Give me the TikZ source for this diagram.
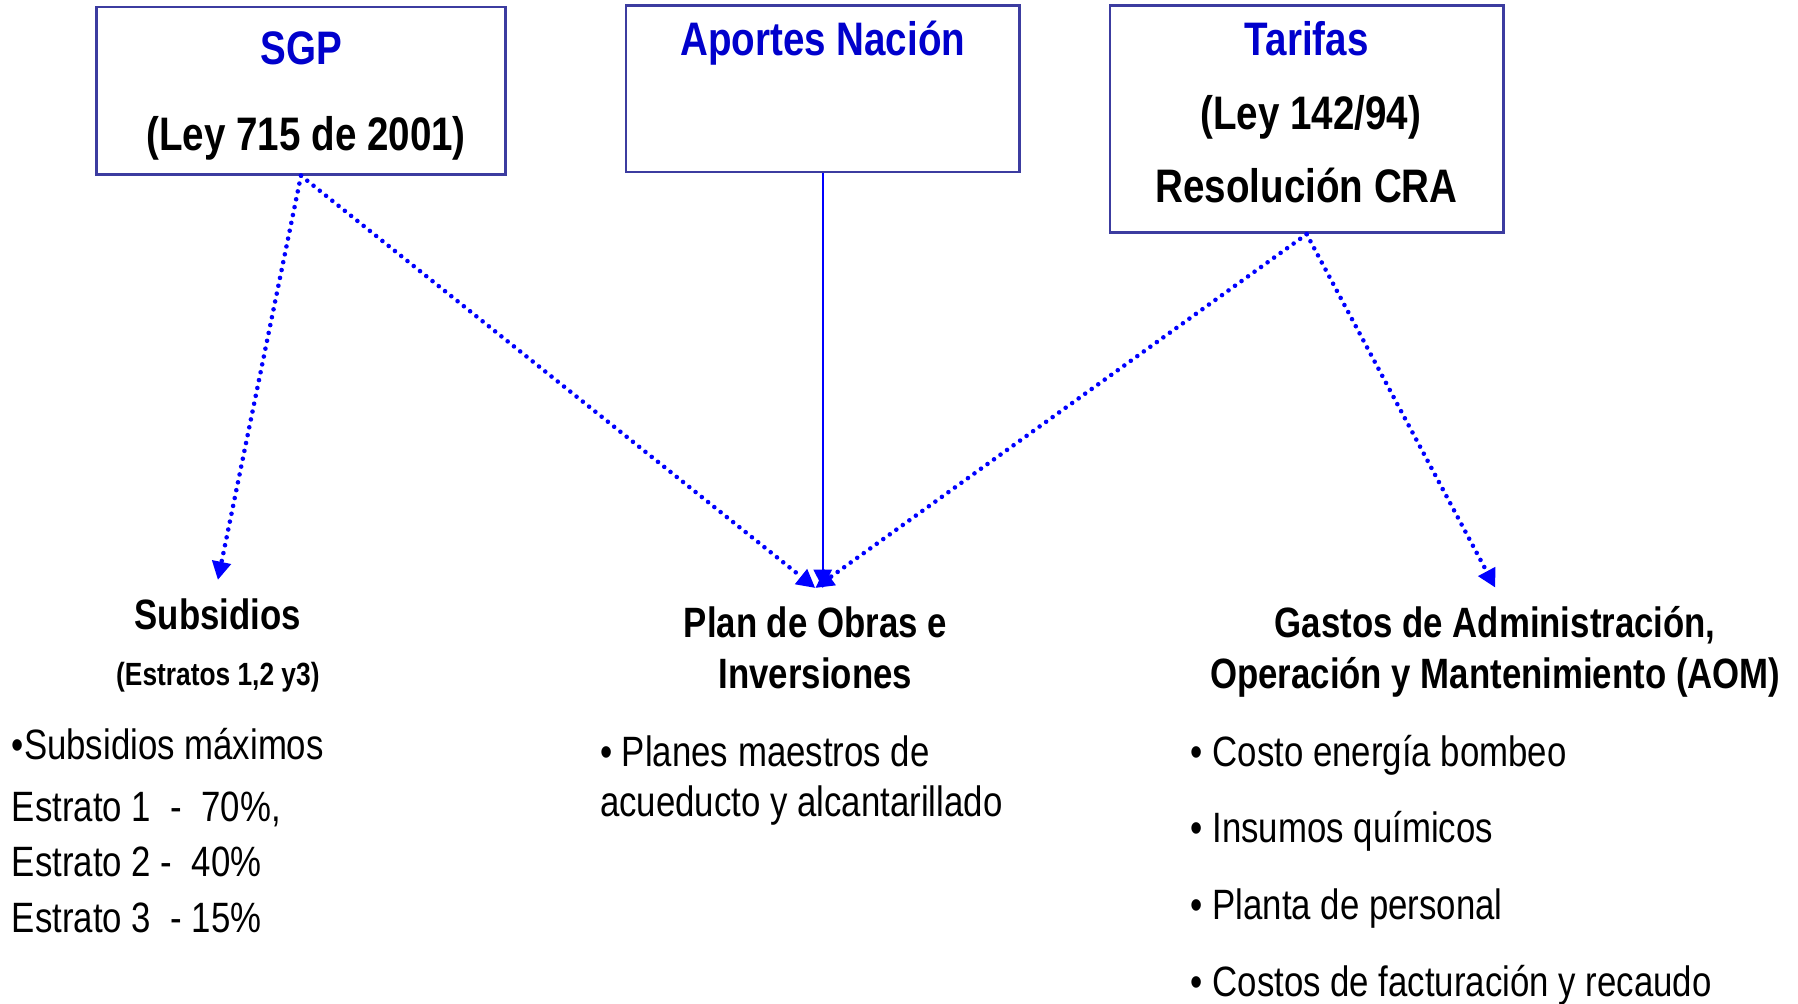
\documentclass[tikz,border=0pt]{standalone}
\usepackage{fontspec}
\setmainfont{Liberation Sans}[FakeStretch=0.82]
\usetikzlibrary{arrows.meta}
\definecolor{rahmen}{RGB}{60,60,160}
\definecolor{titel}{RGB}{0,0,204}
\definecolor{pfeil}{RGB}{0,0,255}
\newcommand\px{0.5pt}
\newcommand\boxfont{\fontsize{20.5pt}{24pt}\selectfont\bfseries}
\newcommand\headfont{\fontsize{18.5pt}{22pt}\selectfont\bfseries}
\newcommand\smallfont{\fontsize{14pt}{17pt}\selectfont\bfseries}
\newcommand\itemfont{\fontsize{18.5pt}{22pt}\selectfont}
\tikzset{
	caja/.style = {draw = rahmen, line width = 1.2pt, inner sep = 0pt},
	titulo/.style = {anchor = base, inner sep = 0pt, text = titel, font = \boxfont},
	ley/.style = {anchor = base, inner sep = 0pt, font = \boxfont},
	encabezado/.style = {anchor = base, align = center, inner xsep = 0pt, inner ysep = 8pt, font = \headfont},
	punto/.style = {anchor = base west, inner sep = 0pt, font = \itemfont},
	flujo/.style = {pfeil, line width = 2pt, line cap = round, dash pattern = on 0pt off 3.5pt, -{Triangle[length = 8pt, width = 8pt]}},
	directo/.style = {pfeil, line width = 0.7pt, -{Triangle[length = 8pt, width = 8pt]}},
}

\begin{document}
\begin{tikzpicture}[yscale = -1, x = \px, y = \px]
	\useasboundingbox (0, 0) rectangle (1568, 875);

	% Fuentes:
	\node [caja, minimum width = 357*\px, minimum height = 146*\px] (sgp) at (262.5, 79) {};
	\node [titulo] (sgp-t) at (262.5, 56) {SGP};
	\node [ley] (sgp-ley) at (267, 131) {(Ley 715 de 2001)};

	\node [caja, minimum width = 343*\px, minimum height = 145*\px] (aportes) at (717.5, 77.5) {};
	\node [titulo] (aportes-t) at (717.5, 48) {Aportes Nación};

	\node [caja, minimum width = 343*\px, minimum height = 198*\px] (tarifas) at (1139.5, 104) {};
	\node [titulo] (tarifas-t) at (1139.5, 48) {Tarifas};
	\node [ley] (tarifas-ley) at (1143, 113) {(Ley 142/94)};
	\node [ley] (tarifas-res) at (1139.5, 177) {Resolución CRA};

	% Destinos:
	\node [encabezado] (subs) at (190, 549) {Subsidios};
	\node [anchor = base, inner sep = 0pt, font = \smallfont] (estratos) at (190, 598) {(Estratos 1,2 y3)};
	\foreach \y/\texto [count = \i] in {662/{•Subsidios máximos}, 716/{Estrato 1 \ - \ 70\%,}, 764/{Estrato 2 - \ 40\%}, 813/{Estrato 3 \ - 15\%}} {
		\node [punto] (subs\i) at (10, \y) {\texto};
	}

	\node [encabezado] (plan) at (711, 600) {Plan de Obras e\\Inversiones};
	\foreach \y/\texto [count = \i] in {668/• Planes maestros de, 712/acueducto y alcantarillado} {
		\node [punto] (plan\i) at (523, \y) {\texto};
	}

	\node [encabezado] (aom) at (1304, 600) {Gastos de Administración,\\Operación y Mantenimiento (AOM)};
	\foreach \y/\texto [count = \i] in {668/• Costo energía bombeo, 735/• Insumos químicos, 802/• Planta de personal, 869/• Costos de facturación y recaudo} {
		\node [punto] (aom\i) at (1038, \y) {\texto};
	}

	% Flechas
	\draw [flujo] (sgp.south) -- (subs.north);
	\draw [flujo] (sgp.south) -- (plan.north);
	\draw [directo] (aportes.south) -- (aportes.south |- plan.north);
	\draw [flujo] (tarifas.south) -- (plan.north);
	\draw [flujo] (tarifas.south) -- (aom.north);
\end{tikzpicture}
\end{document}
